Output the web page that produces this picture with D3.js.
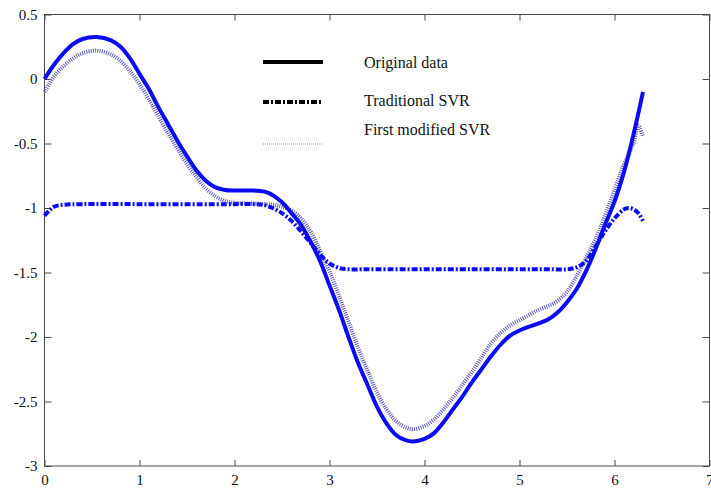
<!DOCTYPE html>
<html>
<head>
<meta charset="utf-8">
<script src="https://cdn.jsdelivr.net/npm/d3@7"></script>
<style>
  body { margin: 0; background: #fff; }
  svg { display: block; }
  text { font-family: "Liberation Serif", "DejaVu Serif", serif; }
</style>
</head>
<body>
<svg id="chart"></svg>
<script>
// series values
const origX = [0, 0.1, 0.2, 0.3, 0.4, 0.55, 0.7, 0.8, 0.9, 1.0, 1.1, 1.2, 1.3, 1.4, 1.5, 1.6, 1.7, 1.8, 1.9, 2.0, 2.2, 2.35, 2.5, 2.6, 2.7, 2.8, 2.9, 3.0, 3.1, 3.2, 3.3, 3.4, 3.5, 3.6, 3.7, 3.8, 3.88, 4.0, 4.1, 4.2, 4.3, 4.4, 4.5, 4.6, 4.7, 4.8, 4.9, 5.0, 5.1, 5.2, 5.3, 5.4, 5.5, 5.6, 5.7, 5.8, 5.9, 6.0, 6.1, 6.2, 6.3]
const origY = [0, 0.11, 0.2, 0.27, 0.31, 0.325, 0.3, 0.25, 0.16, 0.04, -0.08, -0.22, -0.35, -0.48, -0.6, -0.71, -0.79, -0.84, -0.86, -0.865, -0.865, -0.88, -0.955, -1.04, -1.13, -1.26, -1.41, -1.6, -1.79, -2.0, -2.2, -2.37, -2.54, -2.67, -2.76, -2.8, -2.81, -2.79, -2.745, -2.66, -2.56, -2.46, -2.35, -2.25, -2.15, -2.06, -1.99, -1.95, -1.92, -1.895, -1.865, -1.81, -1.73, -1.63, -1.49, -1.32, -1.13, -0.95, -0.72, -0.43, -0.1]

const tradX = [0, 0.05, 0.1, 0.2, 0.4, 1.0, 2.0, 2.2, 2.3, 2.4, 2.5, 2.6, 2.7, 2.8, 2.9, 3.0, 3.1, 3.2, 3.4, 4.5, 5.3, 5.5, 5.6, 5.7, 5.8, 5.9, 6.0, 6.1, 6.15, 6.2, 6.25, 6.3]
const tradY = [-1.06, -1.02, -0.99, -0.975, -0.97, -0.97, -0.97, -0.97, -0.975, -1.0, -1.04, -1.1, -1.18, -1.27, -1.36, -1.43, -1.465, -1.475, -1.475, -1.475, -1.475, -1.475, -1.46, -1.41, -1.3, -1.18, -1.08, -1.01, -1.0, -1.01, -1.04, -1.1]

const modX = [0, 0.1, 0.2, 0.3, 0.4, 0.55, 0.7, 0.8, 0.9, 1.0, 1.1, 1.2, 1.3, 1.4, 1.5, 1.6, 1.7, 1.8, 1.9, 2.0, 2.2, 2.4, 2.5, 2.6, 2.7, 2.8, 2.9, 3.0, 3.1, 3.2, 3.3, 3.4, 3.5, 3.6, 3.7, 3.8, 3.88, 4.0, 4.1, 4.2, 4.3, 4.4, 4.5, 4.6, 4.7, 4.8, 4.9, 5.0, 5.1, 5.2, 5.3, 5.4, 5.5, 5.6, 5.7, 5.8, 5.9, 6.0, 6.1, 6.2, 6.25, 6.3]
const modY = [-0.1, 0.02, 0.1, 0.16, 0.2, 0.22, 0.19, 0.14, 0.06, -0.04, -0.16, -0.29, -0.42, -0.54, -0.66, -0.76, -0.85, -0.91, -0.945, -0.96, -0.965, -0.975, -0.99, -1.02, -1.08, -1.18, -1.33, -1.49, -1.68, -1.88, -2.08, -2.26, -2.43, -2.56, -2.65, -2.7, -2.715, -2.69, -2.64, -2.56, -2.47, -2.37, -2.27, -2.16, -2.05, -1.97, -1.91, -1.87, -1.83, -1.79, -1.76, -1.72, -1.65, -1.53, -1.39, -1.24, -1.06, -0.86, -0.66, -0.5, -0.36, -0.45]

const xTicks = [0, 1, 2, 3, 4, 5, 6, 7]
const yTicks = [0.5, 0, -0.5, -1, -1.5, -2, -2.5, -3]
const legendNames = ["Original data", "Traditional SVR", "First modified SVR"]

const width = 711, height = 491
const margin = { top: 14.5, right: 1.5, bottom: 25, left: 44.5 }

const svg = d3.select('#chart')
  .attr('width', width)
  .attr('height', height)
  .style('background-color', '#fff')

const x = d3.scaleLinear().domain([0, 7]).range([margin.left, width - margin.right])
const y = d3.scaleLinear().domain([-3, 0.5]).range([height - margin.bottom, margin.top])

const axisColor = '#4a4a4a'

// box round the plot
svg.append('rect')
  .attr('x', x(0)).attr('y', y(0.5))
  .attr('width', x(7) - x(0)).attr('height', y(-3) - y(0.5))
  .attr('fill', 'none').attr('stroke', axisColor).attr('stroke-width', 1)

function styleAxis(g) {
  g.select('.domain').remove()
  g.selectAll('.tick line').attr('stroke', axisColor)
  g.selectAll('.tick text').attr('fill', '#111').style('font-size', '15px')
    .style('font-family', '"Liberation Serif", serif')
}

// inward ticks on all four sides
svg.append('g')
  .attr('transform', `translate(0,${y(-3)})`)
  .call(d3.axisBottom(x).tickValues(xTicks).tickSizeInner(-6).tickSizeOuter(0).tickPadding(8).tickFormat(d => String(d)))
  .call(styleAxis)

svg.append('g')
  .attr('transform', `translate(0,${y(0.5)})`)
  .call(d3.axisTop(x).tickValues(xTicks).tickSizeInner(-6).tickSizeOuter(0).tickFormat(''))
  .call(styleAxis)

svg.append('g')
  .attr('transform', `translate(${x(0)},0)`)
  .call(d3.axisLeft(y).tickValues(yTicks).tickSizeInner(-7).tickSizeOuter(0).tickPadding(7).tickFormat(d => String(d)))
  .call(styleAxis)

svg.append('g')
  .attr('transform', `translate(${x(7)},0)`)
  .call(d3.axisRight(y).tickValues(yTicks).tickSizeInner(-7).tickSizeOuter(0).tickFormat(''))
  .call(styleAxis)

const line = d3.line()
  .x(d => x(d[0]))
  .y(d => y(d[1]))
  .curve(d3.curveCatmullRom.alpha(0.5))

const plot = svg.append('g')

plot.append('path')
  .datum(modX.map((v, i) => [v, modY[i]]))
  .attr('d', line)
  .attr('fill', 'none')
  .attr('stroke', '#5a5ab8')
  .attr('stroke-width', 4)
  .attr('stroke-dasharray', '1,1.2')

plot.append('path')
  .datum(tradX.map((v, i) => [v, tradY[i]]))
  .attr('d', line)
  .attr('fill', 'none')
  .attr('stroke', '#0a0af5')
  .attr('stroke-width', 4)
  .attr('stroke-dasharray', '6,2,2,2')

plot.append('path')
  .datum(origX.map((v, i) => [v, origY[i]]))
  .attr('d', line)
  .attr('fill', 'none')
  .attr('stroke', '#0a0af5')
  .attr('stroke-width', 4)

// legend
const legend = svg.append('g')
const legendRows = [
  { name: legendNames[0], lineY: 62, textY: 68, stroke: '#000', width: 4, dash: null },
  { name: legendNames[1], lineY: 102, textY: 106, stroke: '#000', width: 4, dash: '6,2,2,2' },
  { name: legendNames[2], lineY: 144, textY: 135, stroke: '#8a8a9a', width: 1.2, dash: '1,1' }
]

legend.selectAll('line')
  .data(legendRows)
  .enter().append('line')
  .attr('x1', 263).attr('x2', 323)
  .attr('y1', d => d.lineY).attr('y2', d => d.lineY)
  .attr('stroke', d => d.stroke)
  .attr('stroke-width', d => d.width)
  .attr('stroke-dasharray', d => d.dash)

legend.selectAll('text')
  .data(legendRows)
  .enter().append('text')
  .attr('x', 364)
  .attr('y', d => d.textY)
  .style('font-size', '16px')
  .attr('fill', '#111')
  .text(d => d.name)
</script>
</body>
</html>
